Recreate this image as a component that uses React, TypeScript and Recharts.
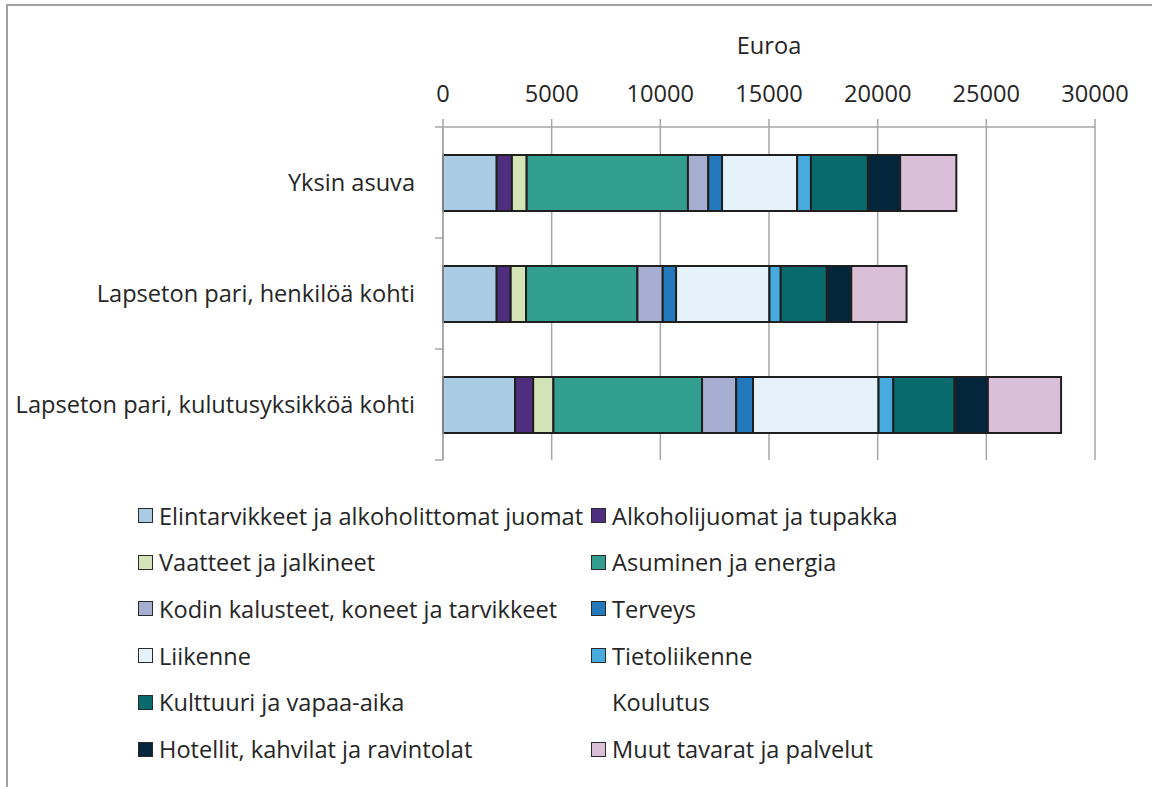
import { Bar, BarChart, CartesianGrid, XAxis, YAxis } from "recharts";

const CATEGORIES = [
  "Yksin asuva",
  "Lapseton pari, henkilöä kohti",
  "Lapseton pari, kulutusyksikköä kohti",
];

const SERIES_NAMES = [
  "Elintarvikkeet ja alkoholittomat juomat",
  "Alkoholijuomat ja tupakka",
  "Vaatteet ja jalkineet",
  "Asuminen ja energia",
  "Kodin kalusteet, koneet ja tarvikkeet",
  "Terveys",
  "Liikenne",
  "Tietoliikenne",
  "Kulttuuri ja vapaa-aika",
  "Koulutus",
  "Hotellit, kahvilat ja ravintolat",
  "Muut tavarat ja palvelut",
];

const SERIES_COLORS = [
  "#a9cce4",
  "#4f2d7f",
  "#d5e4b6",
  "#319e8f",
  "#a6aed2",
  "#2479bd",
  "#e6f2fa",
  "#47abe0",
  "#096a6e",
  "transparent",
  "#04263d",
  "#dbbfd8",
];

// euroa, rivit CATEGORIES-järjestyksessä
const ELINTARVIKKEET = [2470, 2470, 3315];
const ALKOHOLI = [700, 645, 835];
const VAATTEET = [680, 705, 930];
const ASUMINEN = [7420, 5125, 6840];
const KODIN_KALUSTEET = [935, 1165, 1570];
const TERVEYS = [635, 615, 775];
const LIIKENNE = [3455, 4295, 5775];
const TIETOLIIKENNE = [635, 520, 680];
const KULTTUURI = [2615, 2115, 2810];
const KOULUTUS = [30, 25, 30];
const HOTELLIT = [1460, 1105, 1510];
const MUUT = [2585, 2545, 3370];

const SERIES_VALUES = [
  ELINTARVIKKEET,
  ALKOHOLI,
  VAATTEET,
  ASUMINEN,
  KODIN_KALUSTEET,
  TERVEYS,
  LIIKENNE,
  TIETOLIIKENNE,
  KULTTUURI,
  KOULUTUS,
  HOTELLIT,
  MUUT,
];

const X_TICKS = [0, 5000, 10000, 15000, 20000, 25000, 30000];

const WIDTH = 1152;
const HEIGHT = 787;
const MARGIN = { top: 0, right: 57, bottom: 327, left: 0 };
const X_AXIS_HEIGHT = 127;
const Y_AXIS_WIDTH = 443;
const TEXT = "#262626";
const AXIS = "#a6a6a6";
const FONT = "'Open Sans', sans-serif";
const FONT_SIZE = 23.6;

const data = CATEGORIES.map((name, i) => {
  const row: Record<string, string | number> = { name };
  SERIES_VALUES.forEach((values, s) => {
    row[`s${s}`] = values[i];
  });
  return row;
});

const PLOT_HEIGHT = HEIGHT - MARGIN.top - MARGIN.bottom - X_AXIS_HEIGHT;
const BAND = PLOT_HEIGHT / CATEGORIES.length;

// Excel-tyylinen kategoria-akseli: jakoviivat kaistojen rajoilla
function CategoryTick(props: any) {
  const { x, y, payload, index } = props;
  const x1 = x + 20;
  const x2 = x + 28;
  return (
    <g>
      <line x1={x1} x2={x2} y1={y - BAND / 2} y2={y - BAND / 2} stroke={AXIS} strokeWidth={1.5} />
      {index === CATEGORIES.length - 1 && (
        <line x1={x1} x2={x2} y1={y + BAND / 2} y2={y + BAND / 2} stroke={AXIS} strokeWidth={1.5} />
      )}
      <text x={x} y={y} dy="0.35em" textAnchor="end" fill={TEXT} fontSize={FONT_SIZE} fontFamily={FONT}>
        {payload.value}
      </text>
    </g>
  );
}

function LegendBlock() {
  return (
    <div
      style={{
        position: "absolute",
        left: 0,
        top: 492,
        width: WIDTH,
        fontFamily: FONT,
        fontSize: FONT_SIZE,
        color: TEXT,
      }}
    >
      {SERIES_NAMES.map((name, i) => {
        const row = Math.floor(i / 2);
        const col = i % 2;
        const visible = SERIES_COLORS[i] !== "transparent";
        return (
          <div
            key={name}
            style={{
              position: "absolute",
              left: col === 0 ? 138 : 591,
              top: row * 46.7,
              height: 47,
              display: "flex",
              alignItems: "center",
              whiteSpace: "nowrap",
            }}
          >
            <span
              style={{
                display: "inline-block",
                width: 13,
                height: 13,
                background: visible ? SERIES_COLORS[i] : "transparent",
                border: visible ? "1.5px solid #2a2a2a" : "1.5px solid transparent",
                marginRight: 6,
              }}
            />
            <span>{name}</span>
          </div>
        );
      })}
    </div>
  );
}

export default function App() {
  return (
    <div
      style={{
        position: "absolute",
        left: 0,
        top: 0,
        width: WIDTH,
        height: HEIGHT,
        background: "#fff",
        overflow: "hidden",
      }}
    >
      <div
        style={{
          position: "absolute",
          left: 6,
          top: 4,
          width: WIDTH,
          height: HEIGHT,
          borderTop: `2px solid #a0a0a0`,
          borderLeft: `2px solid #a0a0a0`,
        }}
      />
      <div style={{ position: "absolute", left: 0, top: 0 }}>
        <BarChart
          width={WIDTH}
          height={HEIGHT}
          data={data}
          layout="vertical"
          margin={MARGIN}
          barSize={56}
        >
          <CartesianGrid horizontal={false} stroke={AXIS} strokeWidth={1.5} />
          <XAxis
            type="number"
            orientation="top"
            domain={[0, 30000]}
            ticks={X_TICKS}
            height={X_AXIS_HEIGHT}
            tickSize={8}
            tickMargin={17}
            axisLine={{ stroke: AXIS, strokeWidth: 1.5 }}
            tickLine={{ stroke: AXIS, strokeWidth: 1.5 }}
            tick={{ fill: TEXT, fontSize: FONT_SIZE, fontFamily: FONT }}
            label={{
              value: "Euroa",
              position: "insideTop",
              offset: 37,
              fill: TEXT,
              fontSize: FONT_SIZE,
              fontFamily: FONT,
            }}
          />
          <YAxis
            type="category"
            dataKey="name"
            width={Y_AXIS_WIDTH}
            tickSize={8}
            tickMargin={20}
            tickLine={false}
            axisLine={{ stroke: AXIS, strokeWidth: 1.5 }}
            tick={<CategoryTick />}
            interval={0}
          />
          {SERIES_NAMES.map((name, s) => (
            <Bar
              key={name}
              name={name}
              dataKey={`s${s}`}
              stackId="kulutus"
              fill={SERIES_COLORS[s]}
              stroke={SERIES_COLORS[s] === "transparent" ? "none" : "#1f1f1f"}
              strokeWidth={2}
              isAnimationActive={false}
            />
          ))}
        </BarChart>
      </div>
      <LegendBlock />
    </div>
  );
}
